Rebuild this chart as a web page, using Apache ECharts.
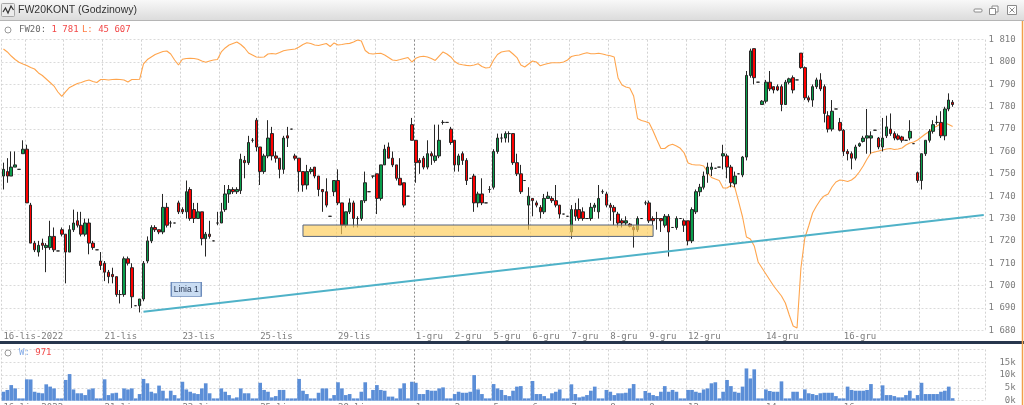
<!doctype html>
<html>
<head>
    <meta charset="utf-8">
    <title>FW20KONT (Godzinowy)</title>
    <style>
        html, body { margin: 0; padding: 0; background: #fff; }
        #chart { width: 1024px; height: 405px; }
    </style>
</head>
<body>
<div id="chart"></div>
<script src="https://cdn.jsdelivr.net/npm/echarts/dist/echarts.min.js"></script>
<script>
    // sesje (świece godzinowe), ostatni dzień to tylko puste miejsce po prawej
    var sessionDays = ['16-lis', '17-lis', '18-lis', '21-lis', '22-lis', '23-lis', '24-lis', '25-lis', '28-lis', '29-lis', '30-lis',
        '1-gru', '2-gru', '5-gru', '6-gru', '7-gru', '8-gru', '9-gru', '12-gru', '13-gru', '14-gru', '15-gru', '16-gru', '19-gru', '20-gru', '21-gru'];
    var tickText = ['16-lis-2022', '21-lis', '23-lis', '25-lis', '29-lis', '1-gru', '2-gru', '5-gru', '6-gru', '7-gru', '8-gru', '9-gru', '12-gru', '14-gru', '16-gru'];
    var priceTicks = [1680, 1810, 10];
    var volTicks = [0, 20000, 5000];

    var openP = [
        1749, 1751, 1749, 1753, 1752, 1759, 1761, 1736, 1719, 1715,
        1719, 1717, 1717, 1722, 1715.5, 1725, 1723, 1715, 1725, 1729,
        1727, 1723, 1728, 1719, 1716, 1711, 1710, 1706, 1705, 1704,
        1696, 1696, 1712, 1708, 1691, 1691, 1694, 1711, 1720, 1726,
        1725, 1724, 1735, 1728, 1728, 1737, 1734, 1733, 1743, 1734,
        1730, 1733, 1721, 1723, 1720, 1728, 1728, 1734, 1741, 1743,
        1742, 1742.5, 1756, 1755, 1765, 1774, 1762, 1751, 1758, 1768,
        1758, 1757, 1752, 1767, 1770, 1758, 1757, 1751, 1745, 1751,
        1753, 1749, 1743, 1742, 1731, 1742, 1747, 1737, 1727, 1733,
        1737, 1730, 1730, 1738, 1742, 1749, 1750, 1739, 1754, 1762,
        1757, 1754, 1748, 1746, 1740, 1772, 1765, 1756, 1757, 1753,
        1759, 1756, 1758, 1773, 1773, 1770, 1765, 1754, 1759, 1756,
        1748, 1749, 1737, 1741, 1737, 1743, 1744, 1760, 1766, 1766,
        1768, 1768, 1755, 1750, 1747, 1736, 1739, 1737, 1735, 1733,
        1739, 1739, 1738, 1736, 1732, 1731, 1724, 1734, 1734, 1733,
        1730, 1730, 1735, 1733, 1742, 1741, 1736, 1735, 1732, 1729,
        1728, 1727.5, 1726, 1725, 1730, 1737, 1737, 1730, 1730, 1730,
        1727, 1731, 1726, 1726, 1730, 1729, 1729, 1720, 1733, 1742,
        1744, 1750, 1752, 1752.5, 1753, 1758, 1758, 1753, 1745.5, 1750,
        1749.5, 1757.5, 1794, 1806, 1791, 1781, 1782.5, 1791, 1789, 1789,
        1789, 1781, 1791, 1793, 1792, 1804, 1797.5, 1784, 1783, 1789,
        1792, 1789, 1776, 1770, 1779, 1773, 1769.5, 1760, 1759, 1757,
        1762.5, 1764.5, 1766, 1766, 1769.5, 1766, 1762, 1767, 1770, 1768,
        1767, 1766.5, 1765, 1766, 1763.5, 1750.5, 1747, 1759, 1765, 1769,
        1773, 1773, 1767, 1779, 1782
    ];
    var closeP = [
        1752, 1749, 1753, 1754, 1752, 1761, 1737, 1719, 1716, 1718,
        1718, 1718, 1722, 1716, 1715.5, 1723, 1715, 1725, 1728, 1727,
        1723, 1728, 1719, 1717, 1716, 1709, 1706, 1704, 1704, 1696,
        1696, 1712, 1710, 1695, 1691, 1694, 1710, 1720, 1726, 1725,
        1724, 1735, 1727, 1728, 1728, 1733, 1733, 1742, 1730, 1730,
        1733, 1721, 1723, 1722, 1720, 1728, 1733, 1741, 1743, 1742,
        1743, 1756.5, 1755, 1764, 1765, 1762, 1751, 1758, 1766, 1758,
        1757, 1752, 1766, 1766, 1770, 1757, 1751, 1745, 1751, 1752,
        1749, 1743, 1742, 1736, 1731, 1747, 1737, 1727, 1733, 1737,
        1730, 1730, 1738, 1746, 1742, 1749, 1739, 1754, 1761, 1757,
        1754, 1748, 1745, 1736, 1740, 1765, 1755, 1755, 1753, 1759,
        1758, 1758, 1765, 1773, 1773, 1764, 1754, 1758, 1756, 1747,
        1748, 1737, 1741, 1737, 1737, 1743, 1760, 1766, 1766, 1768,
        1768, 1755, 1750, 1742, 1747, 1740, 1738, 1736, 1733, 1739,
        1740, 1738, 1736, 1732, 1732, 1731, 1734, 1731, 1730, 1730,
        1730, 1735, 1736, 1739, 1742, 1736, 1735, 1733, 1728, 1728,
        1729, 1726.5, 1725, 1730, 1730, 1737, 1729, 1729, 1730, 1729,
        1731, 1724, 1726, 1730, 1730, 1727, 1720, 1734, 1742, 1744,
        1749, 1753, 1753, 1752.5, 1753, 1759, 1753, 1746, 1749, 1750,
        1757.5, 1794, 1805, 1793, 1791, 1782.5, 1791, 1788, 1787.5, 1787.5,
        1781, 1791, 1792.5, 1787.5, 1792, 1797.5, 1784, 1783, 1789, 1792,
        1788, 1777, 1770, 1778, 1779, 1769.5, 1760, 1759, 1757, 1762,
        1763.5, 1766, 1767, 1767, 1769.5, 1762, 1766, 1771, 1768, 1766,
        1765.5, 1765, 1765, 1769, 1763.5, 1747, 1759, 1765, 1769, 1772,
        1773, 1767, 1779, 1783, 1781
    ];
    var lowP = [
        1743, 1746, 1749, 1753, 1752, 1759, 1737, 1719, 1715, 1713,
        1716, 1706, 1716, 1715, 1715.5, 1722, 1701, 1715, 1724, 1726,
        1722, 1722, 1714, 1716, 1716, 1707, 1702, 1701, 1701, 1695,
        1692, 1695, 1709, 1690, 1691, 1688, 1693, 1710, 1719, 1724,
        1723, 1723, 1726, 1726, 1728, 1732, 1732, 1730, 1729, 1728,
        1730, 1718, 1713, 1721, 1720, 1727, 1728, 1733, 1737, 1741,
        1741, 1741, 1748, 1754, 1764, 1760, 1745, 1750, 1757, 1756,
        1755, 1748, 1750, 1762, 1770, 1756, 1742, 1742, 1743, 1750,
        1748, 1740, 1733, 1735, 1731, 1740, 1736, 1723, 1726, 1732,
        1726, 1726, 1729, 1737, 1742, 1748, 1732, 1738, 1754, 1757,
        1753, 1747, 1745, 1735, 1740, 1765, 1746, 1750, 1752, 1752,
        1754, 1755, 1757, 1772, 1773, 1763, 1751, 1751, 1754, 1745,
        1748, 1733, 1735, 1736, 1737, 1741.5, 1743, 1759, 1764, 1764,
        1764, 1754, 1749, 1741, 1747, 1725, 1731, 1735, 1730, 1732,
        1739, 1737, 1735, 1730, 1732, 1731, 1721, 1729, 1729, 1729,
        1730, 1729, 1733, 1730, 1741, 1735, 1729, 1727, 1726, 1726,
        1727, 1726, 1717, 1724, 1730, 1736, 1728, 1727, 1725, 1724,
        1726, 1713, 1726, 1725, 1730, 1724, 1718, 1719, 1732, 1740,
        1743, 1746, 1749, 1752.5, 1753, 1752, 1748, 1744, 1744, 1750,
        1748.5, 1756, 1793, 1790, 1791, 1781, 1781.5, 1787, 1786, 1787,
        1778, 1781, 1790, 1786, 1792, 1797, 1783, 1782, 1780, 1788,
        1787, 1773, 1768.5, 1769, 1779, 1769, 1758, 1756, 1752, 1756,
        1762, 1764, 1759, 1759, 1769.5, 1761, 1760, 1766, 1767, 1765,
        1765, 1764, 1765, 1765, 1763.5, 1746, 1743, 1758, 1764, 1768,
        1772, 1766, 1765, 1778, 1780
    ];
    var highP = [
        1755, 1757, 1760, 1760, 1752, 1765, 1763, 1737, 1720, 1720,
        1721, 1719, 1729, 1726, 1715.5, 1726, 1723, 1727, 1734, 1733,
        1733, 1730, 1730, 1720, 1716, 1715, 1711, 1707, 1708, 1704,
        1698, 1713, 1713, 1710, 1691, 1694, 1711, 1722, 1727, 1727,
        1725, 1741, 1737, 1729, 1728, 1738, 1735, 1747, 1744, 1737,
        1737, 1733, 1724, 1729, 1720, 1733, 1737, 1745, 1745, 1744,
        1744, 1759, 1758, 1767, 1766, 1775, 1762, 1759, 1774, 1771,
        1760, 1757, 1767, 1771, 1770, 1759, 1757, 1751, 1754, 1753,
        1753, 1749, 1743, 1748, 1731, 1747, 1752, 1737, 1733, 1739,
        1738, 1731, 1738, 1751, 1742, 1749, 1750, 1754, 1763, 1764,
        1760, 1754, 1757, 1746, 1740, 1775, 1765, 1757, 1758, 1765,
        1760, 1772, 1772, 1774, 1773, 1771, 1765, 1759, 1760, 1757,
        1748, 1750, 1742, 1748, 1737, 1744.5, 1761, 1768, 1768, 1769,
        1769, 1768, 1759, 1754, 1747, 1744, 1739, 1738, 1736, 1741,
        1742, 1740, 1745, 1736, 1732, 1731, 1736, 1737, 1739, 1735,
        1730, 1737, 1737, 1745, 1743, 1742, 1737, 1736, 1733, 1730,
        1731, 1728, 1727, 1731, 1730, 1738, 1738, 1731, 1733, 1730,
        1732, 1732, 1726, 1731, 1730, 1730, 1729, 1735, 1743, 1745.5,
        1751, 1755, 1755, 1752.5, 1753, 1763, 1759, 1754, 1751, 1750,
        1758, 1796, 1806, 1806, 1791, 1783, 1792, 1796, 1789, 1790,
        1790, 1792, 1793, 1794, 1792, 1804, 1798, 1785, 1790, 1793,
        1795, 1790, 1778, 1783, 1779, 1775, 1770, 1761, 1760, 1763,
        1764, 1767, 1779, 1769, 1769.5, 1766.5, 1775, 1776, 1777, 1769,
        1768, 1767, 1765, 1774, 1763.5, 1751, 1759, 1765, 1770, 1774,
        1776, 1778, 1780, 1786, 1783
    ];
    // L: liczba otwartych pozycji
    var openInt = [
        55330, 54960, 54450, 54010, 53660, 53450, 53260, 53010, 52820, 52320,
        52000, 51560, 51120, 50680, 49930, 49370, 49970, 50500, 50750, 51000,
        51120, 51310, 51440, 51250, 51120, 51500, 51500, 51440, 51500, 51530,
        51500, 51440, 51190, 51500, 51500, 51530, 53450, 54010, 54330, 54640,
        54830, 55020, 55080, 54700, 53950, 53320, 54040, 54140, 54160, 54140,
        54040, 53820, 53660, 53820, 53950, 54010, 54960, 55460, 55830, 56020,
        56210, 55900, 55460, 54830, 54580, 54330, 54290, 54330, 54700, 54770,
        54700, 54890, 55110, 55210, 55270, 55330, 55580, 55900, 56120, 56020,
        55830, 55770, 55900, 56020, 55650, 56090, 55830, 55900, 55990, 56040,
        56210, 56460, 56340, 55140, 54770, 54700, 54770, 54790, 54580, 54260,
        53950, 53890, 54010, 54140, 54260, 53700, 54160, 54350, 54430, 54330,
        54140, 53890, 54450, 54960, 54700, 54330, 53760, 53450, 53360, 53280,
        53220, 53320, 53470, 53130, 52950, 53010, 53950, 54640, 54960, 55040,
        55110, 54700, 54260, 53320, 53070, 53450, 53820, 53700, 53220, 53390,
        53510, 53610, 53610, 53610, 53700, 53950, 54390, 54520, 54580, 54730,
        54850, 54730, 54740, 54790, 54700, 54580, 54480, 54330, 51690, 50810,
        50560, 50430, 49430, 46600, 46350, 46230, 46040, 45030, 43900, 42830,
        42830, 43210, 43360, 43150, 42860, 42270, 41010, 40830, 40760, 40760,
        40640, 39880, 39190, 39000, 38820, 37870, 37870, 38190, 37940, 36120,
        34230, 31720, 31470, 30590, 28580, 27830, 27070, 26320, 25560, 24940,
        24310, 23430, 21920, 20540, 20290, 27830, 31590, 33100, 34730, 35610,
        36370, 36870, 37120, 38000, 38630, 38880, 38820, 38690, 38880, 39260,
        39880, 40640, 41520, 42270, 42400, 42520, 42650, 42770, 42830, 42710,
        42770, 42900, 43270, 43530, 43650, 43900, 44280, 44660, 44970, 45410,
        45660, 45970, 46040, 45850, 45607
    ];
    // W: wolumen
    var volume = [
        3500, 4200, 6100, 4800, 900, 900, 8350, 8300, 3500, 3100,
        2900, 6400, 5500, 4800, 900, 900, 8100, 10400, 4400, 2900,
        2900, 2200, 4400, 4800, 900, 900, 8350, 2200, 2900, 3100,
        900, 4800, 4400, 4800, 900, 2600, 8500, 6800, 3500, 2900,
        5900, 3900, 900, 3900, 2200, 900, 7400, 4400, 3500, 2900,
        2600, 4800, 6800, 2900, 900, 900, 4800, 3500, 2200, 900,
        1300, 4800, 2900, 2900, 900, 900, 7000, 4200, 3500, 1300,
        1800, 4200, 4200, 900, 900, 900, 8500, 3900, 2600, 900,
        900, 3100, 4800, 4800, 900, 2200, 7200, 4800, 2200, 2600,
        900, 900, 3500, 7200, 900, 4200, 6100, 4200, 3900, 1600,
        1600, 900, 4800, 6800, 900, 7400, 7000, 2600, 2600, 4200,
        3900, 3900, 4800, 5200, 900, 900, 2600, 3500, 3100, 3100,
        3500, 10000, 4400, 2600, 900, 900, 6500, 4800, 4200, 2200,
        1800, 3900, 5500, 5700, 900, 900, 7700, 2600, 2600, 1800,
        900, 2900, 3500, 4400, 900, 900, 6400, 2600, 1300, 1600,
        2200, 3900, 5500, 900, 900, 4200, 3500, 2200, 2900, 2900,
        3100, 4800, 6500, 900, 900, 3800, 3100, 2200, 1800, 3500,
        5700, 3500, 4200, 3500, 900, 900, 4200, 4200, 3500, 3100,
        4400, 4800, 6800, 7200, 900, 3500, 8100, 5700, 3500, 3100,
        5500, 12600, 8700, 12250, 900, 900, 4400, 3800, 3500, 3500,
        7550, 900, 900, 3500, 3500, 900, 4400, 2900, 2600, 2200,
        2900, 3100, 3100, 3100, 1800, 900, 900, 5500, 4200, 3900,
        3900, 3900, 4200, 6500, 900, 900, 6000, 2200, 2200, 1800,
        1300, 1300, 2200, 3900, 900, 2200, 7000, 2600, 2600, 2600,
        2600, 3500, 3900, 5500, 971
    ];
    // linia trendu "Linia 1" i prostokąt wsparcia
    var trendX = [36, 252];
    var trendY = [1688.3, 1731.6];
    var trendTag = [47, 1698.3];
    var zoneX = [77, 167];
    var zoneY = [1727.1, 1722.0];

    var MONO = '"DejaVu Sans Mono", monospace';
    var SANS = '"Liberation Sans", Arial, sans-serif';

    // kategorie: godziny sesji
    var categories = [];
    var dayStarts = [];
    sessionDays.forEach(function (d, k) {
        var first = k === 0 ? 12 : 8;
        var last = k === sessionDays.length - 1 ? 14 : 17;
        dayStarts.push(categories.length);
        for (var h = first; h <= last; h++) categories.push(d + ' ' + h + ':00');
    });
    var labelAt = {};
    tickText.forEach(function (t) {
        var key = t.split('-').slice(0, 2).join('-');
        labelAt[sessionDays.indexOf(key) >= 0 ? dayStarts[sessionDays.indexOf(key)] : 0] = t;
    });
    var startSet = {};
    dayStarts.forEach(function (i) { startSet[i] = true; });
    var vColors = dayStarts.map(function (i, k) {
        return sessionDays[k] === '1-gru' ? '#8c8c8c' : '#d2d2d2';
    });

    var ohlc = openP.map(function (o, i) {
        return [o, closeP[i], lowP[i], highP[i]];
    });
    var lastClose = closeP[closeP.length - 1];
    var lastVol = volume[volume.length - 1];
    var lastOI = openInt[openInt.length - 1];

    function spaced(v) {
        return String(v).replace(/\B(?=(\d{3})+(?!\d))/g, ' ');
    }

    function xAxisFor(gi) {
        return {
            type: 'category',
            gridIndex: gi,
            data: categories,
            boundaryGap: true,
            axisLine: {show: false},
            axisTick: {show: false},
            axisLabel: {
                interval: function (idx) { return labelAt[idx] !== undefined; },
                formatter: function (val, idx) { return labelAt[idx] || ''; },
                color: '#7c7c7c',
                fontFamily: MONO,
                fontSize: 9,
                margin: 2,
                align: 'left'
            },
            splitLine: {
                show: true,
                interval: function (idx) { return !!startSet[idx]; },
                lineStyle: {color: vColors, type: [2, 2], width: 1}
            }
        };
    }

    var chart = echarts.init(document.getElementById('chart'), null, {renderer: 'canvas'});

    var option = {
        animation: false,
        backgroundColor: '#ffffff',
        textStyle: {fontFamily: MONO},
        grid: [
            {left: 1.5, right: 38.3, top: 39.7, height: 290.6, containLabel: false, outerBoundsMode: 'none'},
            {left: 1.5, right: 38.3, top: 349.5, height: 51.2, containLabel: false, outerBoundsMode: 'none'}
        ],
        xAxis: [xAxisFor(0), xAxisFor(1)],
        yAxis: [
            {
                type: 'value',
                gridIndex: 0,
                position: 'right',
                min: priceTicks[0],
                max: priceTicks[1],
                interval: priceTicks[2],
                axisLine: {show: false},
                axisTick: {show: false},
                axisLabel: {
                    formatter: function (v) { return spaced(v); },
                    color: '#7c7c7c',
                    fontFamily: MONO,
                    fontSize: 9,
                    margin: 30,
                    align: 'right'
                },
                splitLine: {lineStyle: {color: '#dadada', type: [2, 2]}}
            },
            {
                type: 'value',
                gridIndex: 0,
                min: 20000,
                max: 56500,
                show: false,
                splitLine: {show: false}
            },
            {
                type: 'value',
                gridIndex: 1,
                position: 'right',
                min: volTicks[0],
                max: volTicks[1],
                interval: volTicks[2],
                axisLine: {show: false},
                axisTick: {show: false},
                axisLabel: {
                    showMaxLabel: false,
                    formatter: function (v) { return (v / 1000) + 'k'; },
                    color: '#7c7c7c',
                    fontFamily: MONO,
                    fontSize: 9,
                    margin: 30,
                    align: 'right'
                },
                splitLine: {lineStyle: {color: '#dadada', type: [2, 2]}}
            }
        ],
        series: [
            {
                name: 'L',
                type: 'line',
                xAxisIndex: 0,
                yAxisIndex: 1,
                data: openInt,
                symbol: 'none',
                z: 1,
                lineStyle: {color: '#ffa54d', width: 1.1}
            },
            {
                name: 'FW20',
                type: 'candlestick',
                xAxisIndex: 0,
                yAxisIndex: 0,
                data: ohlc,
                barWidth: 3,
                z: 2,
                itemStyle: {
                    color: '#0a9e4c',
                    color0: '#ff0000',
                    borderColor: '#262626',
                    borderColor0: '#262626',
                    borderColorDoji: '#262626',
                    borderWidth: 1
                },
                markLine: {
                    silent: true,
                    symbol: ['none', 'none'],
                    lineStyle: {opacity: 0},
                    label: {
                        position: 'end',
                        distance: 1,
                        formatter: spaced(lastClose),
                        color: '#d42a2a',
                        backgroundColor: '#f8d4d4',
                        borderColor: '#c27a7a',
                        borderWidth: 1,
                        padding: [1, 2, 0, 2],
                        fontFamily: MONO,
                        fontSize: 9
                    },
                    data: [{yAxis: lastClose}]
                }
            },
            {
                name: 'Linia 1',
                type: 'line',
                xAxisIndex: 0,
                yAxisIndex: 0,
                data: trendX.map(function (x, i) { return [x, trendY[i]]; }),
                symbol: 'none',
                z: 4,
                lineStyle: {color: '#4fb2c8', width: 2},
                markArea: {
                    silent: true,
                    z: 4,
                    itemStyle: {color: 'rgba(253, 205, 90, 0.68)', borderColor: '#56657f', borderWidth: 1},
                    data: [[{coord: [zoneX[0], zoneY[0]]}, {coord: [zoneX[1], zoneY[1]]}]]
                },
                markPoint: {
                    silent: true,
                    symbol: 'rect',
                    symbolSize: [30, 14],
                    itemStyle: {color: '#c9dcf2', borderColor: '#6d8cbc', borderWidth: 1},
                    label: {show: true, formatter: 'Linia 1', color: '#2b3a55', fontFamily: SANS, fontSize: 8.5},
                    data: [{coord: trendTag}]
                }
            },
            {
                name: 'W',
                type: 'bar',
                xAxisIndex: 1,
                yAxisIndex: 2,
                data: volume,
                barCategoryGap: '6%',
                itemStyle: {color: '#5b8ed7'},
                markLine: {
                    silent: true,
                    symbol: ['none', 'none'],
                    lineStyle: {opacity: 0},
                    label: {
                        position: 'end',
                        distance: 3,
                        formatter: String(lastVol),
                        color: '#d42a2a',
                        backgroundColor: '#f8d4d4',
                        borderColor: '#6a8fd8',
                        borderWidth: 1,
                        padding: [1, 1, 0, 1],
                        fontFamily: MONO,
                        fontSize: 9
                    },
                    data: [{yAxis: lastVol}]
                }
            }
        ],
        graphic: [
            {
                type: 'rect', silent: true, z: 10,
                shape: {x: 0, y: 0, width: 1024, height: 20},
                style: {fill: new echarts.graphic.LinearGradient(0, 0, 0, 1, [
                    {offset: 0, color: '#f8f8f8'}, {offset: 1, color: '#dcdcdc'}])}
            },
            {type: 'line', silent: true, z: 10, shape: {x1: 0, y1: 20.5, x2: 1024, y2: 20.5}, style: {stroke: '#b5b5b5', lineWidth: 1}},
            {type: 'rect', silent: true, z: 11, shape: {x: 1.5, y: 3.5, width: 13, height: 13, r: 1}, style: {fill: '#ececec', stroke: '#a8a8a8', lineWidth: 1}},
            {type: 'polyline', silent: true, z: 12, shape: {points: [[3, 12], [5.5, 8], [8, 13], [11, 6], [13.5, 10]]}, style: {stroke: '#333', lineWidth: 1.2, fill: null}},
            {
                type: 'text', silent: true, z: 12,
                style: {x: 18, y: 10.5, text: 'FW20KONT (Godzinowy)', font: '10.5px ' + SANS, fill: '#333', verticalAlign: 'middle'}
            },
            {type: 'rect', silent: true, z: 12, shape: {x: 974, y: 9, width: 8, height: 3, r: 1}, style: {fill: '#fff', stroke: '#8a8a8a', lineWidth: 1}},
            {type: 'rect', silent: true, z: 12, shape: {x: 992, y: 6, width: 6, height: 6}, style: {fill: '#fff', stroke: '#8a8a8a', lineWidth: 1}},
            {type: 'rect', silent: true, z: 12, shape: {x: 989.5, y: 8.5, width: 6, height: 6}, style: {fill: '#fff', stroke: '#8a8a8a', lineWidth: 1}},
            {type: 'rect', silent: true, z: 12, shape: {x: 1007.5, y: 5.5, width: 9, height: 9}, style: {fill: '#fff', stroke: '#8a8a8a', lineWidth: 1}},
            {type: 'polyline', silent: true, z: 13, shape: {points: [[1009.5, 7.5], [1014.5, 12.5]]}, style: {stroke: '#8a8a8a', lineWidth: 1, fill: null}},
            {type: 'polyline', silent: true, z: 13, shape: {points: [[1014.5, 7.5], [1009.5, 12.5]]}, style: {stroke: '#8a8a8a', lineWidth: 1, fill: null}},
            // ikonki przesuwania paneli
            {type: 'circle', silent: true, z: 12, shape: {cx: 8, cy: 30, r: 3}, style: {fill: '#fff', stroke: '#9a9a9a', lineWidth: 1}},
            {type: 'circle', silent: true, z: 12, shape: {cx: 8, cy: 353, r: 3}, style: {fill: '#fff', stroke: '#9a9a9a', lineWidth: 1}},
            {
                type: 'text', silent: true, z: 12,
                style: {
                    x: 19, y: 30, verticalAlign: 'middle',
                    text: '{a|FW20:}{b| ' + spaced(lastClose) + '} {c|L:}{b| ' + spaced(lastOI) + '}',
                    rich: {
                        a: {fill: '#6a6a6a', font: '9px ' + MONO},
                        b: {fill: '#f24848', font: '9px ' + MONO},
                        c: {fill: '#ff7b42', font: '9px ' + MONO}
                    }
                }
            },
            {
                type: 'text', silent: true, z: 12,
                style: {
                    x: 19, y: 353, verticalAlign: 'middle',
                    text: '{a|W:}{b| ' + lastVol + '}',
                    rich: {
                        a: {fill: '#7fa8e6', font: '9px ' + MONO},
                        b: {fill: '#f24848', font: '9px ' + MONO}
                    }
                }
            },
            {type: 'rect', silent: true, z: 12, shape: {x: 0, y: 341, width: 1024, height: 3}, style: {fill: '#27364d'}},
            {type: 'line', silent: true, z: 12, shape: {x1: 1022.5, y1: 21, x2: 1022.5, y2: 405}, style: {stroke: '#f2a04a', lineWidth: 1.5}}
        ]
    };
    chart.setOption(option);
</script>
</body>
</html>
